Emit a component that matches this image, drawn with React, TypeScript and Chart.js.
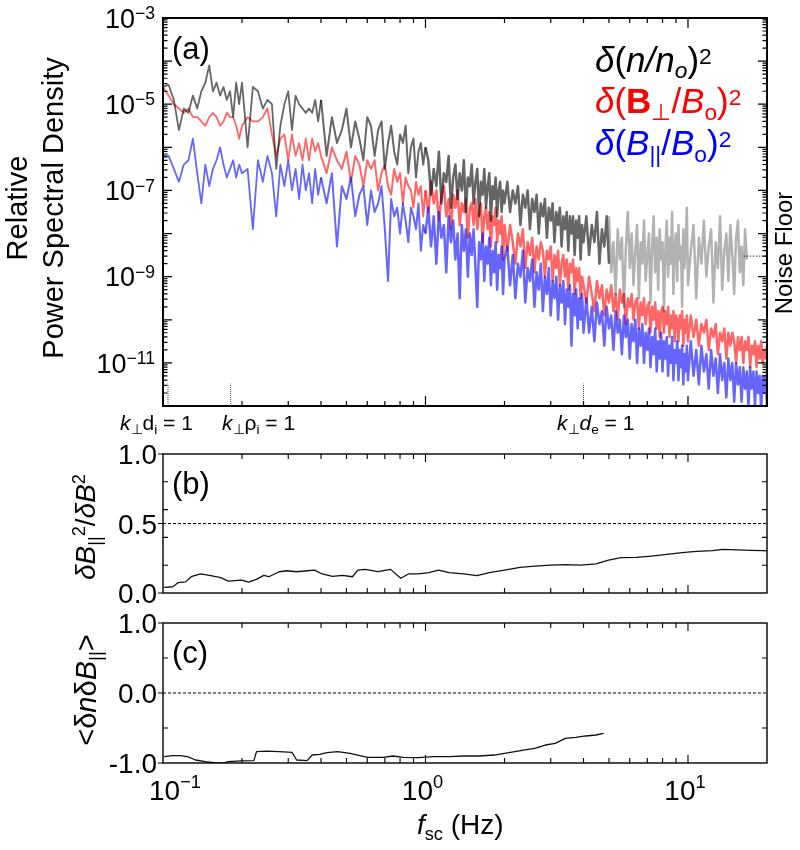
import React, { useEffect, useRef } from "react";
import { Chart, registerables } from "chart.js";
Chart.register(...registerables);

const FONT = '"Liberation Sans", Arial, Helvetica, sans-serif';
const W = 800;
const H = 850;

// ---------- shared frequency grid for panel (a) (Hz) ----------
const frequencyHz = [
  0.100, 0.105, 0.110, 0.115, 0.120, 0.125, 0.130, 0.135, 0.140, 0.145, 0.150, 0.155, 0.160, 0.165, 0.170, 0.175, 0.180, 0.185, 0.190, 0.195, 0.200,
  0.21, 0.22, 0.23, 0.24, 0.25, 0.26, 0.27, 0.28, 0.29, 0.30, 0.31, 0.32, 0.33, 0.34, 0.35, 0.36, 0.37, 0.38, 0.39, 0.40,
  0.42, 0.44, 0.46, 0.48, 0.50, 0.52, 0.54, 0.56, 0.58, 0.60, 0.62, 0.64, 0.66, 0.68, 0.70, 0.72, 0.74, 0.76, 0.78, 0.80, 0.82, 0.84, 0.86, 0.88, 0.90, 0.92, 0.94, 0.96, 0.98, 1.00,
  1.025, 1.05, 1.075, 1.1, 1.125, 1.15, 1.175, 1.2, 1.225, 1.25, 1.275, 1.3, 1.325, 1.35, 1.375, 1.4, 1.425, 1.45, 1.475, 1.5,
  1.525, 1.55, 1.575, 1.6, 1.625, 1.65, 1.675, 1.7, 1.725, 1.75, 1.775, 1.8, 1.825, 1.85, 1.875, 1.9, 1.925, 1.95, 1.975, 2.0,
  2.05, 2.1, 2.15, 2.2, 2.25, 2.3, 2.35, 2.4, 2.45, 2.5, 2.55, 2.6, 2.65, 2.7, 2.75, 2.8, 2.85, 2.9, 2.95, 3.0,
  3.05, 3.1, 3.15, 3.2, 3.25, 3.3, 3.35, 3.4, 3.45, 3.5, 3.55, 3.6, 3.65, 3.7, 3.75, 3.8, 3.85, 3.9, 3.95, 4.0,
  4.1, 4.2, 4.3, 4.4, 4.5, 4.6, 4.7, 4.8, 4.9, 5.0, 5.1, 5.2, 5.3, 5.4, 5.5, 5.6, 5.7, 5.8, 5.9, 6.0,
  6.1, 6.2, 6.3, 6.4, 6.5, 6.6, 6.7, 6.8, 6.9, 7.0, 7.1, 7.2, 7.3, 7.4, 7.5, 7.6, 7.7, 7.8, 7.9, 8.0,
  8.1, 8.2, 8.3, 8.4, 8.5, 8.6, 8.7, 8.8, 8.9, 9.0, 9.1, 9.2, 9.3, 9.4, 9.5, 9.6, 9.7, 9.8, 9.9, 10.0,
  10.25, 10.5, 10.75, 11.0, 11.25, 11.5, 11.75, 12.0, 12.25, 12.5, 12.75, 13.0, 13.25, 13.5, 13.75, 14.0, 14.25, 14.5, 14.75, 15.0,
  15.25, 15.5, 15.75, 16.0, 16.25, 16.5, 16.75, 17.0, 17.25, 17.5, 17.75, 18.0, 18.25, 18.5, 18.75, 19.0, 19.25, 19.5, 19.75, 20.0,
];

// log10 of relative PSD, density delta(n/no)^2 (0.1 - 5 Hz)
const densityLog = [
  -4.6, -4.55, -4.9, -5.6, -5.1, -5.2, -4.8, -5.1, -4.7, -4.5, -4.1, -4.7, -4.5, -4.8, -4.6, -4.9, -4.7, -5.3, -4.5, -5.0, -4.5,
  -6.0, -4.6, -4.7, -5.1, -4.9, -5.0, -6.5, -5.5, -5.0, -4.7, -5.6, -4.8, -5.0, -5.1, -5.2, -5.1, -5.2, -4.9, -5.4, -4.9,
  -6.2, -5.3, -5.9, -5.6, -5.1, -6.0, -5.4, -5.8, -6.3, -5.3, -5.5, -6.2, -5.6, -5.4, -6.5, -5.9, -5.5, -6.1, -6.4, -5.7, -5.9, -5.5, -6.6, -6.0, -5.8, -6.7, -6.1, -5.9, -6.4, -6.0,
  -6.3, -7.1, -6.5, -6.9, -6.1, -7.3, -6.6, -6.8, -6.2, -7.4, -6.7, -6.4, -7.2, -6.6, -7.0, -6.3, -7.5, -6.7, -6.9, -6.4,
  -7.3, -6.8, -6.5, -7.6, -6.8, -7.1, -6.5, -7.4, -6.9, -6.6, -7.7, -6.9, -7.2, -6.7, -7.6, -7.0, -6.8, -7.5, -7.0, -7.3,
  -6.8, -7.5, -7.0, -7.3, -6.9, -7.8, -7.1, -7.4, -7.0, -7.9, -7.2, -7.5, -7.1, -8.0, -7.3, -7.6, -7.2, -8.1, -7.4, -7.7,
  -7.3, -8.2, -7.5, -7.8, -7.4, -8.3, -7.6, -7.9, -7.5, -8.4, -7.6, -8.0, -7.6, -8.5, -7.7, -8.1, -7.6, -8.6, -7.8, -8.2,
  -7.6, -8.5, -7.8, -8.2, -7.5, -8.7, -7.9, -8.3, -7.6, -8.7,
];

// log10 of density PSD in the noise-floor range (5 - 16.75 Hz), starting at frequencyHz[160]
const noiseStartIndex = 160;
const densityNoiseLog = [
  -7.6, -8.9, -8.2, -9.4, -7.9, -8.6, -8.1, -9.7, -8.3, -7.5,
  -8.8, -8.0, -9.2, -8.4, -7.8, -9.5, -8.2, -8.7, -7.7, -9.1,
  -8.5, -8.0, -9.6, -8.3, -7.6, -8.9, -8.1, -9.3, -7.9, -8.6,
  -8.2, -9.8, -8.4, -7.7, -9.0, -8.1, -8.7, -7.5, -9.4, -8.3,
  -8.0, -9.1, -7.8, -8.6, -8.3, -9.7, -7.9, -8.8, -8.2, -7.4,
  -9.2,
  -8.4, -7.8, -9.5, -8.1, -8.7, -7.7, -9.0, -8.3, -7.9, -9.6,
  -8.2, -8.8, -7.6, -9.3, -8.4, -8.0, -9.1, -7.8, -8.5, -9.4,
  -8.1, -7.7, -8.9, -8.3, -9.2, -7.9, -8.6,
];

// log10 of delta(Bperp/Bo)^2
const bPerpLog = [
  -4.6, -4.8, -5.0, -5.1, -5.2, -5.1, -5.3, -5.3, -5.4, -5.5, -5.3, -5.2, -5.3, -5.5, -5.4, -5.2, -5.3, -5.3, -5.5, -5.8, -5.5,
  -5.3, -5.4, -5.4, -5.3, -5.1, -5.7, -6.2, -5.8, -5.7, -6.3, -5.7, -6.2, -5.9, -6.3, -5.8, -6.3, -5.8, -6.1, -5.9, -6.2,
  -6.6, -6.0, -6.3, -6.5, -6.1, -6.8, -6.2, -6.4, -6.9, -6.3, -6.5, -6.3, -7.0, -6.6, -6.4, -6.9, -7.1, -6.5, -6.8, -6.6, -7.3, -6.7, -6.9, -7.0, -7.4, -6.8, -7.1, -6.9, -7.6, -7.0,
  -7.5, -6.8, -7.3, -7.0, -7.7, -7.1, -6.9, -7.6, -7.2, -7.9, -7.1, -7.4, -7.0, -7.8, -7.3, -7.5, -7.2, -8.1, -7.4, -7.3,
  -7.8, -7.2, -7.9, -7.5, -7.3, -8.2, -7.6, -7.4, -7.9, -7.5, -8.3, -7.6, -7.8, -7.4, -8.2, -7.7, -8.0, -7.6, -8.6, -7.8,
  -8.4, -7.8, -8.2, -8.7, -8.0, -8.3, -7.9, -8.8, -8.2, -8.5, -8.1, -8.9, -8.3, -8.6, -8.2, -8.4, -9.0, -8.4, -8.6, -8.3,
  -9.1, -8.5, -8.8, -8.4, -9.2, -8.7, -8.5, -9.0, -8.6, -9.3, -8.7, -8.9, -8.6, -9.4, -8.8, -9.1, -8.8, -9.5, -9.0, -9.2,
  -9.6, -9.0, -9.4, -9.8, -9.1, -9.5, -9.2, -9.9, -9.3, -9.6, -9.2, -9.8, -9.4, -10.0, -9.3, -9.6, -9.4, -10.1, -9.5, -9.7,
  -9.4, -10.0, -9.6, -9.5, -10.2, -9.6, -9.9, -9.5, -10.1, -9.7, -9.6, -10.3, -9.7, -10.0, -9.6, -10.2, -9.8, -10.4, -9.8, -9.7,
  -10.3, -9.8, -10.1, -9.7, -10.4, -9.9, -10.2, -9.8, -10.5, -9.9, -10.0, -10.5, -9.9, -10.2, -9.8, -10.6, -10.0, -10.3, -9.9, -10.5,
  -9.9, -10.4, -10.0, -10.6, -10.1, -10.3, -10.0, -10.7, -10.2, -10.4, -10.1, -10.8, -10.3, -10.5, -10.2, -10.9, -10.3, -10.6, -10.3, -10.5,
  -11.0, -10.4, -10.7, -10.4, -11.0, -10.5, -10.7, -10.4, -11.1, -10.6, -10.8, -10.5, -11.1, -10.6, -10.9, -10.5, -11.0, -10.7, -10.9, -10.6,
];

// log10 of delta(Bpar/Bo)^2
const bParLog = [
  -6.2, -6.2, -6.5, -6.8, -6.4, -6.3, -5.8, -6.6, -7.3, -6.4, -6.9, -6.5, -6.3, -6.0, -6.4, -6.7, -6.5, -6.3, -6.7, -6.4, -6.6,
  -6.5, -7.9, -6.3, -6.8, -6.2, -6.6, -7.6, -6.4, -6.9, -6.3, -7.0, -6.5, -7.2, -6.4, -7.0, -6.6, -7.3, -6.5, -7.1, -6.7,
  -7.3, -6.6, -8.3, -6.9, -7.2, -6.7, -7.6, -7.1, -6.9, -7.8, -7.0, -7.5, -7.3, -6.9, -7.9, -9.1, -7.2, -7.6, -7.4, -8.0, -7.3, -7.7, -8.2, -7.4, -7.6, -7.9, -7.3, -8.4, -7.8, -8.0,
  -7.4, -8.3, -7.6, -8.7, -7.5, -8.1, -7.8, -8.9, -7.6, -8.2, -7.7, -8.6, -8.0, -9.5, -7.8, -8.4, -7.9, -9.0, -8.0, -8.5,
  -7.9, -8.8, -9.7, -8.2, -8.6, -8.0, -9.1, -8.3, -8.7, -8.1, -9.2, -8.4, -8.9, -8.2, -9.3, -8.5, -8.8, -8.3, -9.4, -8.6,
  -8.3, -9.2, -8.5, -9.5, -8.7, -9.0, -8.4, -9.6, -8.8, -9.1, -8.6, -9.7, -8.9, -9.3, -8.7, -9.8, -9.0, -9.4, -8.8, -9.9,
  -9.1, -9.5, -9.0, -10.0, -9.2, -9.6, -9.1, -10.1, -9.3, -9.7, -9.2, -10.6, -9.4, -9.9, -9.3, -10.2, -9.5, -10.0, -9.4, -10.3,
  -9.5, -10.3, -9.7, -10.5, -9.6, -10.1, -9.8, -10.6, -9.7, -10.2, -9.9, -10.7, -9.8, -10.3, -10.0, -10.8, -9.9, -10.4, -10.0, -10.9,
  -10.1, -10.5, -10.0, -11.0, -10.2, -10.6, -10.1, -11.0, -10.3, -10.7, -10.2, -11.1, -10.4, -10.8, -10.2, -11.2, -10.5, -10.9, -10.3, -11.2,
  -10.5, -10.9, -10.4, -11.3, -10.6, -11.0, -10.4, -11.4, -10.7, -11.0, -10.5, -11.4, -10.7, -11.1, -10.6, -11.5, -10.8, -11.2, -10.6, -11.4,
  -10.5, -11.3, -10.7, -11.5, -10.6, -11.2, -10.8, -11.6, -10.7, -11.3, -10.9, -11.7, -10.8, -11.4, -11.0, -11.8, -10.9, -11.4, -11.0, -11.9,
  -11.0, -11.5, -11.1, -11.9, -11.1, -11.6, -11.2, -12.0, -11.1, -11.6, -11.2, -12.0, -11.2, -11.7, -11.3, -12.1, -11.3, -11.7, -11.3, -12.0,
];

// scale markers (k_perp d_i, k_perp rho_i, k_perp d_e) in Hz, and their dotted-line extent
const scaleMarkerHz = [0.1045, 0.181, 4.0];
const scaleMarkerTop = 3.3e-12;
const scaleMarkerBottom = 1e-12;
// noise floor level (dotted segment)
const noiseFloorLevel = 3.0e-9;
const noiseFloorHz = [16.3, 20];

// panel (b): dB_par^2 / dB^2
const ratioFreqHz = [
  0.101, 0.109, 0.114, 0.122, 0.128, 0.139, 0.152, 0.166, 0.177, 0.199, 0.212, 0.227, 0.242, 0.253, 0.277, 0.296, 0.323, 0.354, 0.378, 0.404,
  0.442, 0.483, 0.527, 0.552, 0.589, 0.659, 0.736, 0.805, 0.860, 0.940, 1.03, 1.12, 1.23, 1.40, 1.57, 1.75, 2.00, 2.29, 2.61, 2.99,
  3.41, 3.90, 4.46, 4.98, 5.56, 6.36, 7.26, 8.30, 9.49, 10.8, 12.4, 13.5, 15.5, 17.3, 19.3, 20.0,
];
const ratioValues = [
  0.04, 0.045, 0.074, 0.08, 0.117, 0.137, 0.125, 0.11, 0.085, 0.092, 0.078, 0.098, 0.127, 0.117, 0.153, 0.16, 0.153, 0.16, 0.165, 0.137,
  0.12, 0.127, 0.117, 0.165, 0.17, 0.153, 0.17, 0.106, 0.137, 0.137, 0.146, 0.165, 0.146, 0.137, 0.125, 0.146, 0.165, 0.185, 0.194, 0.2,
  0.204, 0.2, 0.209, 0.237, 0.254, 0.256, 0.266, 0.278, 0.29, 0.3, 0.305, 0.314, 0.31, 0.307, 0.305, 0.303,
];
const ratioReference = 0.5;

// panel (c): <dn dB_par> correlation
const corrFreqHz = [
  0.101, 0.109, 0.116, 0.124, 0.133, 0.145, 0.159, 0.170, 0.177, 0.199, 0.222, 0.227, 0.248, 0.277, 0.310, 0.323, 0.354, 0.370, 0.395, 0.422,
  0.462, 0.516, 0.552, 0.603, 0.689, 0.753, 0.823, 0.940, 1.07, 1.23, 1.40, 1.60, 1.83, 2.00, 2.19, 2.39, 2.61, 2.86, 3.12, 3.41,
  3.73, 4.08, 4.46, 4.77,
];
const corrValues = [
  -0.91, -0.895, -0.895, -0.91, -0.957, -0.98, -1.0, -1.0, -0.98, -0.97, -0.966, -0.838, -0.83, -0.838, -0.848, -0.957, -0.966, -0.886, -0.876, -0.852,
  -0.838, -0.862, -0.886, -0.919, -0.919, -0.9, -0.919, -0.924, -0.91, -0.91, -0.9, -0.9, -0.886, -0.862, -0.838, -0.814, -0.79, -0.743, -0.719, -0.648,
  -0.633, -0.614, -0.6, -0.576,
];
const corrReference = 0.0;

// axis ranges and tick labels
const freqRange = [0.1, 20];
const psdRange = [1e-12, 1e-3];
const psdTickLabels = [
  { value: 1e-3, exp: "\u22123" },
  { value: 1e-5, exp: "\u22125" },
  { value: 1e-7, exp: "\u22127" },
  { value: 1e-9, exp: "\u22129" },
  { value: 1e-11, exp: "\u221211" },
];
const freqTickLabels = [
  { value: 0.1, exp: "\u22121" },
  { value: 1, exp: "0" },
  { value: 10, exp: "1" },
];
const ratioTickLabels = [0, 0.5, 1.0];
const ratioTicks = [0.2, 0.4, 0.6, 0.8];
const corrTickLabels = [-1.0, 0.0, 1.0];
const corrTicks = [-0.5, 0.5];

// ---------- text helpers ----------
type Seg = { t: string; i?: boolean; b?: boolean; sub?: boolean; sup?: boolean };

function segFont(s: Seg, size: number) {
  const sz = s.sub || s.sup ? size * 0.65 : size;
  return `${s.i ? "italic " : ""}${s.b ? "bold " : ""}${sz}px ${FONT}`;
}

function drawRich(
  ctx: CanvasRenderingContext2D,
  segs: Seg[],
  x: number,
  y: number,
  size: number,
  color: string,
  align: "left" | "center" | "right" = "left",
  rot = 0,
  supShift = 0.3,
  subShift = 0.2
) {
  ctx.save();
  ctx.translate(x, y);
  if (rot) ctx.rotate(rot);
  ctx.fillStyle = color;
  ctx.textBaseline = "alphabetic";
  ctx.textAlign = "left";
  let w = 0;
  for (const s of segs) {
    ctx.font = segFont(s, size);
    w += ctx.measureText(s.t).width;
  }
  let cx = align === "left" ? 0 : align === "center" ? -w / 2 : -w;
  for (const s of segs) {
    ctx.font = segFont(s, size);
    const dy = s.sub ? size * subShift : s.sup ? -size * supShift : 0;
    ctx.fillText(s.t, cx, dy);
    cx += ctx.measureText(s.t).width;
  }
  ctx.restore();
}

function logTicks(min: number, max: number) {
  const major: number[] = [];
  const minor: number[] = [];
  const e0 = Math.floor(Math.log10(min));
  const e1 = Math.ceil(Math.log10(max));
  for (let e = e0; e <= e1; e++) {
    const d = Math.pow(10, e);
    if (d >= min && d <= max) major.push(d);
    for (let k = 2; k <= 9; k++) {
      const v = k * d;
      if (v > min && v < max) minor.push(v);
    }
  }
  return { major, minor };
}

function ticksX(chart: any, vals: number[], len: number) {
  const ctx = chart.ctx;
  const { left, right, top, bottom } = chart.chartArea;
  const sx = chart.scales.x;
  ctx.beginPath();
  for (const v of vals) {
    const p = sx.getPixelForValue(v);
    if (p <= left + 1 || p >= right - 1) continue;
    ctx.moveTo(p, bottom);
    ctx.lineTo(p, bottom - len);
    ctx.moveTo(p, top);
    ctx.lineTo(p, top + len);
  }
  ctx.stroke();
}

function ticksY(chart: any, vals: number[], len: number, outLen = 0) {
  const ctx = chart.ctx;
  const { left, right, top, bottom } = chart.chartArea;
  const sy = chart.scales.y;
  ctx.beginPath();
  for (const v of vals) {
    const p = sy.getPixelForValue(v);
    if (len > 0 && p > top + 1 && p < bottom - 1) {
      ctx.moveTo(left, p);
      ctx.lineTo(left + len, p);
      ctx.moveTo(right, p);
      ctx.lineTo(right - len, p);
    }
    if (outLen > 0) {
      ctx.moveTo(left, p);
      ctx.lineTo(left - outLen, p);
    }
  }
  ctx.stroke();
}

function frame(chart: any, lw: number) {
  const ctx = chart.ctx;
  const a = chart.chartArea;
  ctx.lineWidth = lw;
  ctx.strokeRect(a.left, a.top, a.right - a.left, a.bottom - a.top);
}

function lineDs(data: any[], color: string, width: number, order: number, extra: any = {}) {
  return {
    data,
    borderColor: color,
    borderWidth: width,
    pointRadius: 0,
    fill: false,
    tension: 0,
    borderJoinStyle: "round",
    borderCapStyle: "butt",
    order,
    ...extra,
  };
}

// thicker strokes where the spectrum is dense
const spectrumSegment = {
  borderWidth: (c: any) => (c.p0.parsed.x >= 1.0 ? 2.5 : c.p0.parsed.x >= 0.4 ? 2.0 : 1.8),
};

function baseOptions(top: number, bottom: number, yScale: any) {
  return {
    responsive: false,
    maintainAspectRatio: false,
    animation: false,
    events: [],
    layout: { padding: { left: 163, right: W - 767, top, bottom: H - bottom } },
    plugins: { legend: { display: false }, tooltip: { enabled: false }, title: { display: false } },
    scales: {
      x: { type: "logarithmic", min: freqRange[0], max: freqRange[1], display: false },
      y: { ...yScale, display: false },
    },
  };
}

// ---------- panel (a) ----------
function configA() {
  const pts = (vals: number[], offset = 0) => vals.map((v, i) => ({ x: frequencyHz[i + offset], y: Math.pow(10, v) }));
  const markers = scaleMarkerHz.map((f) =>
    lineDs(
      [
        { x: f, y: scaleMarkerBottom },
        { x: f, y: scaleMarkerTop },
      ],
      "rgba(0,0,0,0.75)",
      1,
      0,
      { borderDash: [1, 1] }
    )
  );
  const decor = {
    id: "decorA",
    afterDraw(chart: any) {
      const ctx = chart.ctx;
      const sy = chart.scales.y;
      ctx.save();
      ctx.strokeStyle = "#000";
      ctx.lineWidth = 1.2;
      const xt = logTicks(freqRange[0], freqRange[1]);
      ticksX(chart, xt.minor, 5);
      ticksX(chart, xt.major, 10);
      const yt = logTicks(psdRange[0], psdRange[1]);
      ticksY(chart, yt.minor, 4.5);
      ticksY(chart, yt.major, 9);
      frame(chart, 2);
      for (const t of psdTickLabels) {
        const py = sy.getPixelForValue(t.value);
        drawRich(ctx, [{ t: "10" }, { t: t.exp, sup: true }], 155, py + 0.36 * 27, 27, "#000", "right", 0, 0.32);
      }
      drawRich(ctx, [{ t: "Relative" }], 27, 208, 29, "#000", "center", -Math.PI / 2);
      drawRich(ctx, [{ t: "Power Spectral Density" }], 63, 208, 29, "#000", "center", -Math.PI / 2);
      drawRich(ctx, [{ t: "(a)" }], 172, 59, 31, "#000");
      drawRich(
        ctx,
        [{ t: "\u03b4", i: true }, { t: "(" }, { t: "n", i: true }, { t: "/", i: true }, { t: "n", i: true }, { t: "o", i: true, sub: true }, { t: ")" }, { t: "2", sup: true }],
        595, 72, 35, "#000", "left", 0, 0.22, 0.18
      );
      drawRich(
        ctx,
        [{ t: "\u03b4", i: true }, { t: "(" }, { t: "B", b: true }, { t: "\u22a5", sub: true }, { t: "/" }, { t: "B", i: true }, { t: "o", sub: true }, { t: ")" }, { t: "2", sup: true }],
        595, 113, 35, "#ff0000", "left", 0, 0.22, 0.2
      );
      drawRich(
        ctx,
        [{ t: "\u03b4", i: true }, { t: "(" }, { t: "B", i: true }, { t: "||", sub: true }, { t: "/" }, { t: "B", i: true }, { t: "o", sub: true }, { t: ")" }, { t: "2", sup: true }],
        595, 155, 35, "#0000ff", "left", 0, 0.22, 0.2
      );
      drawRich(ctx, [{ t: "Noise Floor" }], 792, 253, 24, "#000", "center", -Math.PI / 2);
      drawRich(ctx, [{ t: "k", i: true }, { t: "\u22a5", sub: true }, { t: "d" }, { t: "i", sub: true }, { t: " = 1" }], 120, 430, 21, "#000");
      drawRich(ctx, [{ t: "k", i: true }, { t: "\u22a5", sub: true }, { t: "\u03c1" }, { t: "i", sub: true }, { t: " = 1" }], 222, 430, 21, "#000");
      drawRich(ctx, [{ t: "k", i: true }, { t: "\u22a5", sub: true }, { t: "d", i: true }, { t: "e", sub: true }, { t: " = 1" }], 557, 430, 21, "#000");
      ctx.restore();
    },
  };
  return {
    type: "line",
    data: {
      datasets: [
        lineDs(pts(bPerpLog), "rgba(255,0,0,0.6)", 1.8, 5, { segment: spectrumSegment }),
        lineDs(pts(bParLog), "rgba(0,0,255,0.6)", 1.8, 4, { segment: spectrumSegment }),
        lineDs(pts(densityLog), "rgba(0,0,0,0.6)", 1.8, 3, { segment: spectrumSegment }),
        lineDs(pts(densityNoiseLog, noiseStartIndex), "rgba(0,0,0,0.3)", 2.5, 2),
        lineDs(
          noiseFloorHz.map((f) => ({ x: f, y: noiseFloorLevel })),
          "rgba(0,0,0,0.8)",
          1,
          1,
          { borderDash: [1.5, 1.5] }
        ),
        ...markers,
      ],
    },
    options: baseOptions(18, 406, { type: "logarithmic", min: psdRange[0], max: psdRange[1] }),
    plugins: [decor],
  };
}

// ---------- panel (b) ----------
function configB() {
  const decor = {
    id: "decorB",
    afterDraw(chart: any) {
      const ctx = chart.ctx;
      const sy = chart.scales.y;
      ctx.save();
      ctx.strokeStyle = "#000";
      ctx.lineWidth = 1.1;
      const xt = logTicks(freqRange[0], freqRange[1]);
      ticksX(chart, xt.minor, 5);
      ticksX(chart, xt.major, 8);
      ticksY(chart, ratioTicks, 5);
      ticksY(chart, ratioTickLabels, 0, 5);
      frame(chart, 1.4);
      for (const v of ratioTickLabels) {
        const py = sy.getPixelForValue(v);
        drawRich(ctx, [{ t: v.toFixed(1) }], 157, py + 0.36 * 28, 28, "#000", "right");
      }
      drawRich(
        ctx,
        [{ t: "\u03b4", i: true }, { t: "B", i: true }, { t: "||", sub: true }, { t: "2", sup: true }, { t: "/" }, { t: "\u03b4", i: true }, { t: "B", i: true }, { t: "2", sup: true }],
        95, 527, 28, "#000", "center", -Math.PI / 2, 0.35, 0.2
      );
      drawRich(ctx, [{ t: "(b)" }], 172, 494, 31, "#000");
      ctx.restore();
    },
  };
  return {
    type: "line",
    data: {
      datasets: [
        lineDs(ratioFreqHz.map((f, i) => ({ x: f, y: ratioValues[i] })), "#111", 1.3, 1),
        lineDs(freqRange.map((f) => ({ x: f, y: ratioReference })), "#000", 1.2, 2, { borderDash: [3, 2] }),
      ],
    },
    options: baseOptions(454, 593, { type: "linear", min: 0, max: 1 }),
    plugins: [decor],
  };
}

// ---------- panel (c) ----------
function configC() {
  const decor = {
    id: "decorC",
    afterDraw(chart: any) {
      const ctx = chart.ctx;
      const sy = chart.scales.y;
      const sx = chart.scales.x;
      ctx.save();
      ctx.strokeStyle = "#000";
      ctx.lineWidth = 1.1;
      const xt = logTicks(freqRange[0], freqRange[1]);
      ticksX(chart, xt.minor, 5);
      ticksX(chart, xt.major, 8);
      ticksY(chart, corrTicks, 5);
      ticksY(chart, corrTickLabels, 0, 5);
      frame(chart, 1.4);
      for (const v of corrTickLabels) {
        const py = sy.getPixelForValue(v);
        drawRich(ctx, [{ t: v.toFixed(1) }], 157, py + 0.36 * 28, 28, "#000", "right");
      }
      freqTickLabels.forEach((t, idx) => {
        const px = sx.getPixelForValue(t.value);
        if (idx === 0) {
          drawRich(ctx, [{ t: "10" }, { t: t.exp, sup: true }], px - 14, 800, 28, "#000", "left", 0, 0.42);
        } else {
          drawRich(ctx, [{ t: "10" }, { t: t.exp, sup: true }], px - 3, 800, 28, "#000", "center", 0, 0.42);
        }
      });
      drawRich(ctx, [{ t: "f", i: true }, { t: "sc", sub: true }, { t: " (Hz)" }], 417, 834, 28, "#000", "left", 0, 0.3, 0.22);
      drawRich(
        ctx,
        [{ t: "<" }, { t: "\u03b4" }, { t: "n", i: true }, { t: "\u03b4" }, { t: "B", i: true }, { t: "||", sub: true }, { t: ">" }],
        96, 690, 29, "#000", "center", -Math.PI / 2, 0.3, 0.2
      );
      drawRich(ctx, [{ t: "(c)" }], 172, 663, 31, "#000");
      ctx.restore();
    },
  };
  return {
    type: "line",
    data: {
      datasets: [
        lineDs(corrFreqHz.map((f, i) => ({ x: f, y: corrValues[i] })), "#111", 1.3, 1),
        lineDs(freqRange.map((f) => ({ x: f, y: corrReference })), "#000", 1.2, 2, { borderDash: [3, 2] }),
      ],
    },
    options: baseOptions(623, 763, { type: "linear", min: -1, max: 1 }),
    plugins: [decor],
  };
}

export default function App() {
  const refA = useRef<HTMLCanvasElement>(null);
  const refB = useRef<HTMLCanvasElement>(null);
  const refC = useRef<HTMLCanvasElement>(null);
  useEffect(() => {
    const charts: Chart[] = [];
    if (refA.current) charts.push(new Chart(refA.current, configA() as any));
    if (refB.current) charts.push(new Chart(refB.current, configB() as any));
    if (refC.current) charts.push(new Chart(refC.current, configC() as any));
    return () => charts.forEach((c) => c.destroy());
  }, []);
  const cs: React.CSSProperties = { position: "absolute", left: 0, top: 0, width: W, height: H };
  return (
    <div style={{ position: "absolute", left: 0, top: 0, width: W, height: H, background: "#fff", overflow: "hidden" }}>
      <canvas ref={refA} width={W} height={H} style={cs} />
      <canvas ref={refB} width={W} height={H} style={cs} />
      <canvas ref={refC} width={W} height={H} style={cs} />
    </div>
  );
}
